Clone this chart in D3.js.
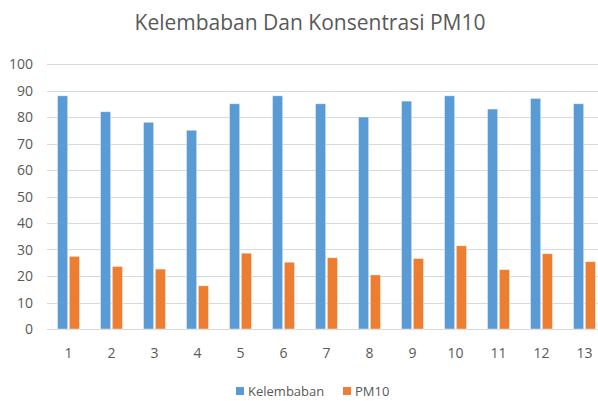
<!DOCTYPE html>
<html>
<head>
<meta charset="utf-8">
<script src="https://d3js.org/d3.v7.min.js"></script>
<style>
  body { margin: 0; background: #fff; }
  text { font-family: "Open Sans", "Liberation Sans", sans-serif; fill: #595959; }
</style>
</head>
<body>
<script>
var categories = ["1", "2", "3", "4", "5", "6", "7", "8", "9", "10", "11", "12", "13"];
var seriesNames = ["Kelembaban", "PM10"];
var kelembaban = [88, 82, 78, 75, 85, 88, 85, 80, 86, 88, 83, 87, 85];
var pm10 = [27.4, 23.6, 22.6, 16.3, 28.6, 25.2, 26.9, 20.4, 26.6, 31.4, 22.4, 28.4, 25.4];
var yTicks = [0, 10, 20, 30, 40, 50, 60, 70, 80, 90, 100];
var colors = ["#5B9BD5", "#ED7D31"];

var width = 598, height = 401;
var plotLeft = 47, plotRight = 606, plotTop = 64, plotBottom = 329;

var svg = d3.select("body").append("svg")
    .attr("width", width)
    .attr("height", height);

var x = d3.scaleBand()
    .domain(categories)
    .range([plotLeft, plotRight]);

var xInner = d3.scaleBand()
    .domain(seriesNames)
    .range([0, 22])
    .paddingInner(0.14);

var y = d3.scaleLinear()
    .domain([0, 100])
    .range([plotBottom, plotTop]);

// title
svg.append("text")
    .attr("x", 310)
    .attr("y", 30)
    .attr("text-anchor", "middle")
    .style("font-size", "21px")
    .text("Kelembaban Dan Konsentrasi PM10");

// gridlines
svg.append("g")
    .selectAll("line")
    .data(yTicks)
    .enter()
    .append("line")
    .attr("x1", plotLeft)
    .attr("x2", width)
    .attr("y1", d => Math.round(y(d)) + 0.5)
    .attr("y2", d => Math.round(y(d)) + 0.5)
    .attr("stroke", "#d9d9d9")
    .attr("stroke-width", 1);

// y labels
svg.append("g")
    .selectAll("text")
    .data(yTicks)
    .enter()
    .append("text")
    .attr("x", 33)
    .attr("y", d => y(d) + 5)
    .attr("text-anchor", "end")
    .style("font-size", "14px")
    .text(d => d);

// x labels
svg.append("g")
    .selectAll("text")
    .data(categories)
    .enter()
    .append("text")
    .attr("x", d => x(d) + x.bandwidth() / 2)
    .attr("y", 358)
    .attr("text-anchor", "middle")
    .style("font-size", "14px")
    .text(d => d);

// bars
var rows = categories.map((c, i) => ({ cat: c, vals: [kelembaban[i], pm10[i]] }));

var groups = svg.append("g")
    .selectAll("g")
    .data(rows)
    .enter()
    .append("g")
    .attr("transform", d => "translate(" + (x(d.cat) + (x.bandwidth() - 22) / 2) + ",0)");

groups.selectAll("rect")
    .data(d => d.vals.map((v, j) => ({ name: seriesNames[j], v: v, j: j })))
    .enter()
    .append("rect")
    .attr("x", d => xInner(d.name))
    .attr("y", d => y(d.v))
    .attr("width", xInner.bandwidth())
    .attr("height", d => y(0) - y(d.v))
    .attr("fill", d => colors[d.j])
    .attr("stroke", "rgba(255,255,255,0.5)")
    .attr("stroke-width", 0.8);

// legend
var legend = svg.append("g");
var legendX = [236, 343];
seriesNames.forEach(function (name, i) {
    legend.append("rect")
        .attr("x", legendX[i])
        .attr("y", 387)
        .attr("width", 8)
        .attr("height", 8)
        .attr("fill", colors[i]);
    legend.append("text")
        .attr("x", legendX[i] + 12)
        .attr("y", 396)
        .style("font-size", "13px")
        .text(name);
});
</script>
</body>
</html>
